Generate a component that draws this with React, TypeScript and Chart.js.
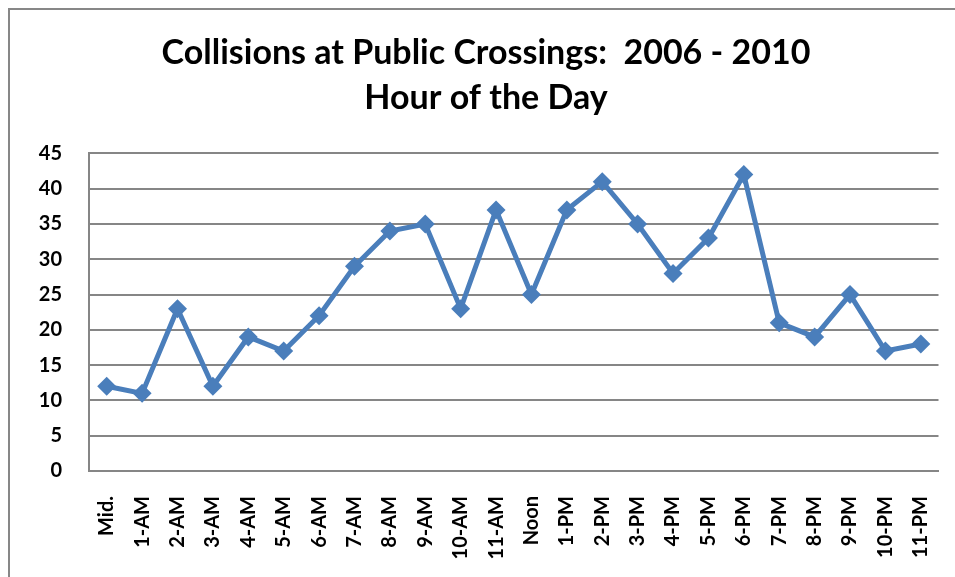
import React, { useEffect, useRef } from "react";
import { Chart, registerables } from "chart.js";

Chart.register(...registerables);

const hours = ["Mid.", "1-AM", "2-AM", "3-AM", "4-AM", "5-AM", "6-AM", "7-AM", "8-AM", "9-AM", "10-AM", "11-AM",
  "Noon", "1-PM", "2-PM", "3-PM", "4-PM", "5-PM", "6-PM", "7-PM", "8-PM", "9-PM", "10-PM", "11-PM"];
const collisions = [12, 11, 23, 12, 19, 17, 22, 29, 34, 35, 23, 37, 25, 37, 41, 35, 28, 33, 42, 21, 19, 25, 17, 18];
const titleLines = ["Collisions at Public Crossings:  2006 - 2010", "Hour of the Day"];

const FONT = "Lato, 'Noto Sans', sans-serif";

export default function App() {
  const ref = useRef<HTMLCanvasElement>(null);
  useEffect(() => {
    const chart = new Chart(ref.current!, {
      type: "line",
      data: {
        labels: hours,
        datasets: [{
          data: collisions,
          borderColor: "#4A7EBB",
          backgroundColor: "#4A7EBB",
          borderWidth: 5,
          pointStyle: "rectRot",
          pointRadius: 9.5,
          pointBorderWidth: 0,
          tension: 0,
        }],
      },
      options: {
        animation: false,
        responsive: false,
        layout: { padding: { left: 2, right: 0, top: 0, bottom: 0 } },
        plugins: {
          legend: { display: false },
          tooltip: { enabled: false },
          title: {
            display: true,
            text: titleLines,
            color: "#000",
            font: { family: FONT, size: 34, weight: "bold", lineHeight: 1.33 },
            padding: { top: 30, bottom: 33 },
          },
        },
        scales: {
          x: {
            offset: true,
            grid: { display: false, drawTicks: false },
            border: { display: true, color: "#868686", width: 2 },
            ticks: {
              color: "#000",
              font: { family: FONT, size: 20, weight: "bold" },
              maxRotation: 90,
              minRotation: 90,
              autoSkip: false,
              padding: 25,
            },
            afterFit: (s: any) => { s.height = 106; },
          },
          y: {
            min: 0,
            max: 45,
            grid: { color: "#868686", lineWidth: 2, drawTicks: false },
            border: { display: true, color: "#868686", width: 2 },
            ticks: {
              stepSize: 5,
              color: "#000",
              font: { family: FONT, size: 20, weight: "bold" },
              padding: 27,
            },
            afterFit: (s: any) => { s.width = 87; },
          },
        },
      },
    });
    return () => chart.destroy();
  }, []);
  return (
    <div style={{ position: "fixed", left: 0, top: 0, width: 955, height: 577, overflow: "hidden", background: "#fff" }}>
      <div style={{ position: "absolute", left: 8, top: 8, width: 1000, height: 1000, border: "2px solid #878787" }} />
      <canvas ref={ref} width={970} height={577} style={{ position: "absolute", left: 0, top: 0 }} />
    </div>
  );
}
